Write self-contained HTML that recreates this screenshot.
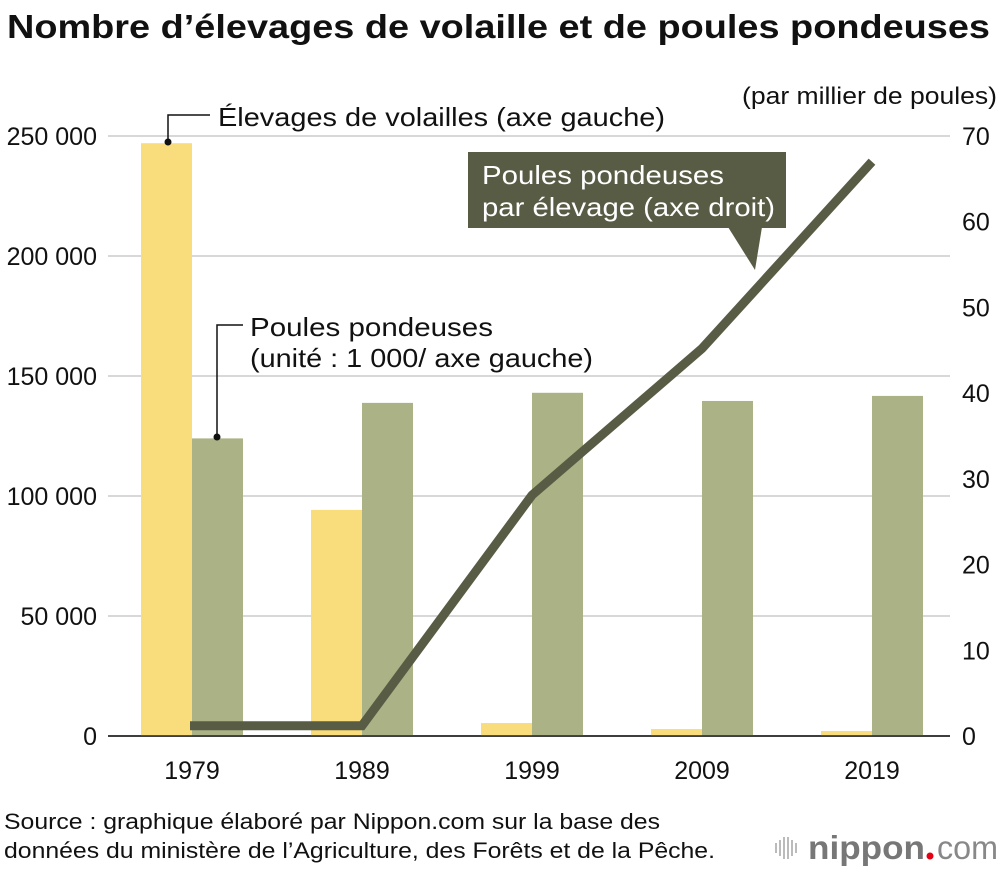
<!DOCTYPE html>
<html><head><meta charset="utf-8"><style>
body{margin:0;background:#fff;width:1000px;height:870px;overflow:hidden;font-family:"Liberation Sans",sans-serif}
</style></head><body>
<svg id="c" width="1000" height="870" xmlns="http://www.w3.org/2000/svg" font-family="Liberation Sans, sans-serif"></svg>
<script>
const years=["1979","1989","1999","2009","2019"];
const farms=[247000,94200,5400,2900,2100];
const hens=[124000,138800,143000,139600,141700];
const perFarm=[1.2,1.2,28.1,45.2,67];
const leftTicks=[0,50000,100000,150000,200000,250000];
const leftLabels=["0","50 000","100 000","150 000","200 000","250 000"];
const rightTicks=[0,10,20,30,40,50,60,70];

const NS="http://www.w3.org/2000/svg";
const svg=document.getElementById('c');
function el(t,a,txt){const e=document.createElementNS(NS,t);for(const k in a)e.setAttribute(k,a[k]);if(txt!==undefined)e.textContent=txt;svg.appendChild(e);return e;}
const y0=736;
const yL=v=>y0-v*600/250000;
const yR=v=>y0-v*600/70;
const xC=i=>192+i*170;

let t=el('text',{x:7,y:38,'font-size':33,'font-weight':'bold',fill:'#111',textLength:983,lengthAdjust:'spacingAndGlyphs'},'Nombre d’élevages de volaille et de poules pondeuses');


leftTicks.forEach((v,i)=>{
 let g=el('line',{x1:108,x2:950,y1:yL(v),y2:yL(v),stroke:v===0?'#222':'#ccc','stroke-width':v===0?1.5:1.5});
 
 let l=el('text',{x:97,y:yL(v)+9,'font-size':25,'text-anchor':'end',fill:'#111'},leftLabels[i]);
 
});
rightTicks.forEach(v=>{
 let l=el('text',{x:962,y:yR(v)+9,'font-size':25,fill:'#111'},String(v));
 
});
t=el('text',{x:742,y:104,'font-size':24,fill:'#111',textLength:255,lengthAdjust:'spacingAndGlyphs'},'(par millier de poules)');


years.forEach((y,i)=>{
 let b=el('rect',{x:xC(i)-51,y:yL(farms[i]),width:51,height:y0-yL(farms[i]),fill:'#f9dc7b'});
 
 b=el('rect',{x:xC(i),y:yL(hens[i]),width:51,height:y0-yL(hens[i]),fill:'#abb386'});
 
 let l=el('text',{x:xC(i),y:779,'font-size':25,'text-anchor':'middle',fill:'#111'},y);
 
});
el('line',{x1:108,x2:950,y1:y0,y2:y0,stroke:'#222','stroke-width':1.5});

let pts=perFarm.map((v,i)=>(xC(i)-(i===0?2:0))+','+yR(v)).join(' ');
let pl=el('polyline',{points:pts,fill:'none',stroke:'#585c45','stroke-width':9,'stroke-linejoin':'miter','stroke-linecap':'butt'});


let a=el('polyline',{points:'168,142 168,115 210,115',fill:'none',stroke:'#111','stroke-width':1.5});

el('circle',{cx:168,cy:142,r:3.5,fill:'#111'});
t=el('text',{x:218,y:126,'font-size':26,fill:'#111',textLength:447,lengthAdjust:'spacingAndGlyphs'},'Élevages de volailles (axe gauche)');


a=el('polyline',{points:'217,437 217,325 243,325',fill:'none',stroke:'#111','stroke-width':1.5});

el('circle',{cx:217,cy:437,r:3.5,fill:'#111'});
t=el('text',{x:250,y:336,'font-size':26,fill:'#111',textLength:243,lengthAdjust:'spacingAndGlyphs'},'Poules pondeuses');

t=el('text',{x:250,y:367,'font-size':26,fill:'#111',textLength:343,lengthAdjust:'spacingAndGlyphs'},'(unité : 1 000/ axe gauche)');


let bx=el('rect',{x:468,y:152,width:318,height:76,fill:'#585c45'});

el('polygon',{points:'728,227 762,227 755,270',fill:'#585c45'});
t=el('text',{x:482,y:184,'font-size':26,fill:'#fff',textLength:242,lengthAdjust:'spacingAndGlyphs'},'Poules pondeuses');

t=el('text',{x:482,y:216,'font-size':26,fill:'#fff',textLength:293,lengthAdjust:'spacingAndGlyphs'},'par élevage (axe droit)');


t=el('text',{x:4,y:829,'font-size':22,fill:'#111',textLength:656,lengthAdjust:'spacingAndGlyphs'},'Source : graphique élaboré par Nippon.com sur la base des');

t=el('text',{x:4,y:858,'font-size':22,fill:'#111',textLength:711,lengthAdjust:'spacingAndGlyphs'},'données du ministère de l’Agriculture, des Forêts et de la Pêche.');


[0,1,2,3,4,5].forEach(k=>{const h=[10,16,22,22,16,10][k];el('rect',{x:775+k*4,y:848-h/2,width:2,height:h,fill:'#bbb'});});
let lg=el('text',{x:808,y:859,'font-size':33,fill:'#777','font-weight':'bold',textLength:117,lengthAdjust:'spacingAndGlyphs'},'nippon');

el('circle',{cx:930,cy:856,r:3.5,fill:'#e60012'});
let lg2=el('text',{x:937,y:859,'font-size':33,fill:'#888',textLength:61,lengthAdjust:'spacingAndGlyphs'},'com');

</script>
</body></html>
